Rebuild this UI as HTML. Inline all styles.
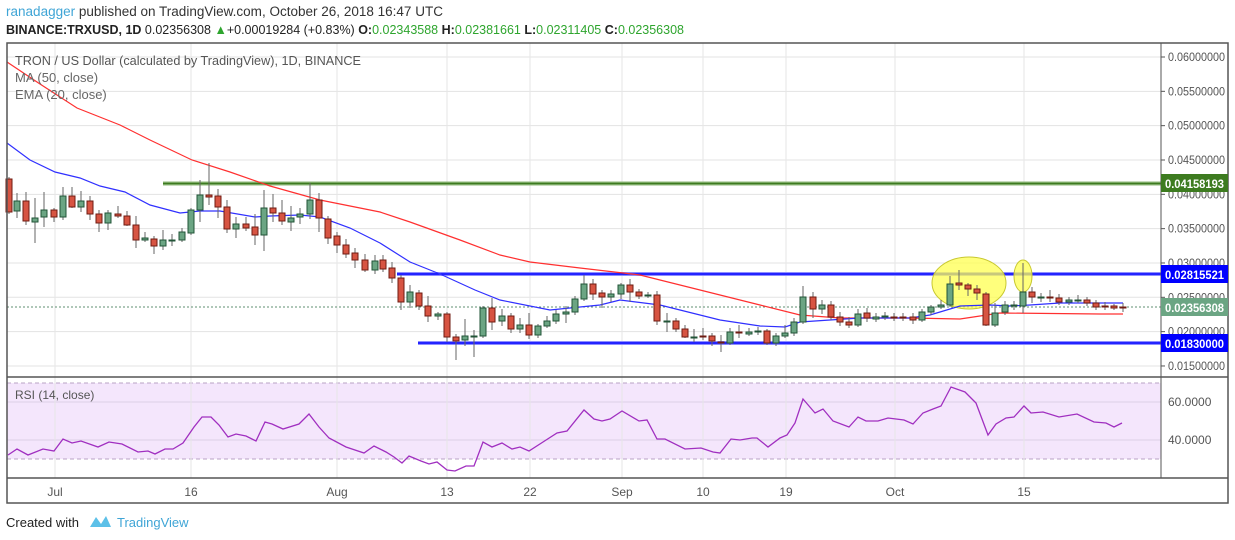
<!DOCTYPE html>
<html><head><meta charset="utf-8"><style>
body{margin:0;background:#fff;width:1235px;height:540px;overflow:hidden;font-family:"Liberation Sans",sans-serif;}
svg{position:absolute;left:0;top:0}
</style></head><body>
<svg id="s" width="1235" height="540" xmlns="http://www.w3.org/2000/svg" font-family="Liberation Sans, sans-serif">
<text x="6" y="16" font-size="13.5" fill="#3fa5d6" textLength="437" lengthAdjust="spacingAndGlyphs">ranadagger<tspan fill="#333"> published on TradingView.com, October 26, 2018 16:47 UTC</tspan></text>
<text x="6" y="34" font-size="13" font-weight="bold" fill="#222" textLength="678" lengthAdjust="spacingAndGlyphs">BINANCE:TRXUSD, 1D <tspan font-weight="normal">0.02356308</tspan> <tspan fill="#2ea52e">▲</tspan><tspan font-weight="normal">+0.00019284 (+0.83%)</tspan> O:<tspan fill="#2ea52e" font-weight="normal">0.02343588</tspan> H:<tspan fill="#2ea52e" font-weight="normal">0.02381661</tspan> L:<tspan fill="#2ea52e" font-weight="normal">0.02311405</tspan> C:<tspan fill="#2ea52e" font-weight="normal">0.02356308</tspan></text>
<g id="grid"></g>
<rect x="7" y="383" width="1154" height="76" fill="#f4e6fc"/>
<line x1="7" y1="383" x2="1161" y2="383" stroke="#b9a3c4" stroke-dasharray="4,3"/>
<line x1="7" y1="459" x2="1161" y2="459" stroke="#b9a3c4" stroke-dasharray="4,3"/>
<line x1="7" y1="402" x2="1161" y2="402" stroke="#ddd0e6"/>
<line x1="7" y1="440" x2="1161" y2="440" stroke="#ddd0e6"/>
<g id="vg"></g>
<line x1="163" y1="183.5" x2="1161" y2="183.5" stroke="#8fb87a" stroke-width="4"/>
<line x1="163" y1="183.5" x2="1161" y2="183.5" stroke="#3d7b20" stroke-width="1.5"/>
<line x1="397" y1="274" x2="1161" y2="274" stroke="#8d8dff" stroke-width="4"/>
<line x1="397" y1="274" x2="1161" y2="274" stroke="#0000ff" stroke-width="1.5"/>
<line x1="418" y1="343" x2="1161" y2="343" stroke="#8d8dff" stroke-width="4"/>
<line x1="418" y1="343" x2="1161" y2="343" stroke="#0000ff" stroke-width="1.5"/>
<line x1="7" y1="307" x2="1161" y2="307" stroke="#5f8f72" stroke-dasharray="2,2"/>
<ellipse cx="969" cy="283" rx="37" ry="26" fill="#ffff50" fill-opacity="0.75" stroke="#c8c830"/>
<ellipse cx="1023" cy="276" rx="9" ry="16" fill="#ffff50" fill-opacity="0.75" stroke="#c8c830"/>
<polyline fill="none" stroke="#ff3030" stroke-width="1.2" points="7,62 40,84 77,108 120,125 150,140 192,160 230,172 270,186 320,200 380,212 410,222 460,240 500,255 530,262 580,268 640,275 700,290 760,305 800,315 840,318 910,318 960,319 980,316 1000,313 1100,314 1123,314"/>
<polyline fill="none" stroke="#3030ff" stroke-width="1.2" points="7,143 30,160 55,172 80,178 100,186 125,192 150,205 180,213 200,211 220,211 255,217 270,216 300,215 320,217 350,228 380,243 410,262 440,274 475,290 500,300 550,310 600,305 620,300 660,305 700,315 720,320 760,326 785,327 800,322 860,318 910,318 930,315 960,306 990,305 1010,306 1030,305 1060,303 1123,303"/>
<g id="c"></g>
<polyline fill="none" stroke="#a02fc0" stroke-width="1.3" points="8,455 17,449 28,455 43,449 54,451 63,439 72,443 81,441 98,447 109,442 122,444 138,452 148,451 155,454 165,449 173,449 183,443 194,427 202,417 211,417 219,425 228,437 236,434 246,436 256,441 265,422 272,424 283,429 299,424 309,414 319,427 329,438 346,447 364,453 374,446 386,452 394,457 402,463 409,456 421,461 429,464 437,462 447,470 455,471 466,466 474,466 483,442 492,447 502,443 512,449 520,447 529,451 543,442 557,433 567,431 584,410 594,419 602,421 610,419 622,411 639,421 647,420 657,439 665,439 685,449 701,448 713,452 720,453 731,439 740,440 752,438 757,438 768,447 780,438 787,435 795,423 803,399 815,413 823,409 833,421 849,427 858,417 866,421 878,421 888,418 904,420 913,424 923,413 933,409 941,406 951,387 965,392 976,403 988,435 996,424 1006,418 1014,417 1024,406 1031,413 1043,412 1059,417 1077,414 1094,422 1106,423 1114,427 1122,423"/>
<text x="15" y="65" font-size="13" fill="#555" textLength="346" lengthAdjust="spacingAndGlyphs">TRON / US Dollar (calculated by TradingView), 1D, BINANCE</text>
<text x="15" y="82" font-size="13" fill="#666">MA (50, close)</text>
<text x="15" y="99" font-size="13" fill="#666">EMA (20, close)</text>
<text x="15" y="399" font-size="12" fill="#555">RSI (14, close)</text>
<rect x="7" y="43" width="1221" height="460" fill="none" stroke="#555" stroke-width="1.5"/>
<line x1="1161" y1="43" x2="1161" y2="478" stroke="#555"/>
<line x1="7" y1="377" x2="1228" y2="377" stroke="#555" stroke-width="1.5"/>
<line x1="7" y1="478" x2="1228" y2="478" stroke="#555" stroke-width="1.5"/>
<g id="ax" font-size="12" fill="#555"></g>
<rect x="1161" y="174" width="67" height="18" fill="#3d7b20"/><text x="1165" y="188" font-size="12" font-weight="bold" fill="#fff" textLength="59" lengthAdjust="spacingAndGlyphs">0.04158193</text>
<rect x="1161" y="265" width="67" height="18" fill="#0000ff"/><text x="1165" y="279" font-size="12" font-weight="bold" fill="#fff" textLength="59" lengthAdjust="spacingAndGlyphs">0.02815521</text>
<rect x="1161" y="298" width="67" height="18" fill="#6ba583"/><text x="1165" y="312" font-size="12" font-weight="bold" fill="#fff" textLength="59" lengthAdjust="spacingAndGlyphs">0.02356308</text>
<rect x="1161" y="334" width="67" height="18" fill="#0000ff"/><text x="1165" y="348" font-size="12" font-weight="bold" fill="#fff" textLength="59" lengthAdjust="spacingAndGlyphs">0.01830000</text>
<text x="6" y="527" font-size="13" fill="#222">Created with</text>
<path d="M90 527 L96 517 L101 524 L106 516 L111 527 Z" fill="#5cc0e8"/>
<text x="117" y="527" font-size="13" fill="#3fa5d6">TradingView</text>
</svg>
<script>
var NS="http://www.w3.org/2000/svg";
function el(p,t,a,txt){var e=document.createElementNS(NS,t);for(var k in a)e.setAttribute(k,a[k]);if(txt)e.textContent=txt;document.getElementById(p).appendChild(e);return e;}
var labs=["0.06000000","0.05500000","0.05000000","0.04500000","0.04000000","0.03500000","0.03000000","0.02500000","0.02000000","0.01500000"];
for(var i=0;i<10;i++){var y=57+i*34.33;el("grid","line",{x1:7,y1:y,x2:1161,y2:y,stroke:"#e3e3e3"});el("ax","line",{x1:1161,y1:y,x2:1165,y2:y,stroke:"#555"});el("ax","text",{x:1168,y:y+4,textLength:57,lengthAdjust:"spacingAndGlyphs"},labs[i]);}
el("ax","text",{x:1168,y:406},"60.0000");el("ax","text",{x:1168,y:444},"40.0000");
var dates=[[55,"Jul"],[191,"16"],[337,"Aug"],[447,"13"],[530,"22"],[622,"Sep"],[703,"10"],[786,"19"],[895,"Oct"],[1024,"15"]];
dates.forEach(function(d){el("vg","line",{x1:d[0],y1:43,x2:d[0],y2:478,stroke:"#e6e6e6"});el("ax","text",{x:d[0],y:496,"text-anchor":"middle"},d[1]);});
var C=[[9,179,212,0,177,214],[17,201,211,1,193,218],[26,201,221,0,192,225],[35,218,222,1,198,243],[44,210,217,1,192,227],[54,210,217,0,208,222],[63,196,217,1,187,220],[72,196,207,0,187,208],[81,201,207,1,191,212],[90,201,214,0,196,220],[99,214,223,0,210,232],[108,213,223,1,210,230],[118,214,216,0,206,218],[127,216,225,0,211,226],[136,225,240,0,216,248],[145,238,240,1,232,242],[154,239,246,0,236,254],[163,240,246,1,230,250],[172,240,241,1,234,246],[182,232,240,1,228,242],[191,210,233,1,208,235],[200,195,210,1,180,222],[209,195,197,0,163,205],[218,196,207,0,189,218],[227,207,229,0,200,233],[236,224,229,1,217,238],[246,224,228,0,217,231],[255,227,235,0,214,245],[264,208,235,1,190,251],[273,208,213,0,194,222],[282,213,221,0,200,225],[291,218,222,1,206,231],[300,214,217,1,208,224],[310,200,214,1,183,219],[319,200,218,0,193,232],[328,219,238,0,216,244],[337,236,245,0,232,253],[346,245,254,0,239,258],[355,253,260,0,248,268],[365,260,270,0,254,272],[375,261,270,1,255,274],[383,260,269,0,255,272],[392,268,278,0,262,283],[401,278,302,0,275,310],[410,292,302,1,285,308],[419,293,306,0,290,310],[428,306,316,0,296,322],[438,314,316,1,312,320],[447,314,337,0,312,342],[456,337,341,0,334,360],[465,336,340,1,319,346],[474,336,337,1,330,357],[483,308,336,1,306,338],[492,308,322,0,298,330],[502,316,321,1,309,326],[511,316,329,0,313,333],[520,325,329,1,318,333],[529,325,335,0,313,339],[538,326,335,1,324,338],[547,321,326,1,316,328],[556,314,321,1,310,324],[566,312,314,1,306,323],[575,299,312,1,296,315],[584,284,299,1,275,301],[593,284,294,0,279,300],[602,293,297,0,290,308],[611,294,297,1,290,302],[621,285,294,1,283,299],[630,285,292,0,279,302],[639,292,296,0,289,299],[648,295,296,1,292,298],[657,295,321,0,291,325],[667,321,322,1,313,332],[676,321,329,0,318,332],[685,329,337,0,325,338],[694,337,338,1,329,342],[703,336,337,0,328,340],[712,336,341,0,333,346],[721,342,343,0,335,352],[730,332,343,1,328,345],[739,332,333,0,325,338],[749,332,334,1,328,336],[758,331,332,1,327,335],[767,331,343,0,329,345],[776,336,343,1,333,346],[785,333,336,1,325,338],[794,322,333,1,318,336],[803,297,322,1,286,324],[813,297,309,0,292,318],[822,305,309,1,300,314],[831,305,317,0,301,320],[840,317,322,0,312,326],[849,322,325,0,317,328],[858,314,325,1,309,327],[867,313,318,0,308,322],[876,317,319,1,313,322],[885,316,317,1,312,320],[894,317,318,0,313,321],[903,317,318,0,313,321],[913,317,320,0,313,324],[922,312,320,1,309,322],[931,307,312,1,305,315],[941,305,307,1,300,309],[950,284,305,1,276,307],[959,283,285,0,270,290],[968,285,289,0,283,296],[977,289,293,0,285,300],[986,294,325,0,292,326],[995,313,325,1,303,327],[1005,305,312,1,301,315],[1014,305,306,1,301,310],[1023,292,306,1,263,313],[1032,292,297,0,287,303],[1041,297,298,1,293,302],[1050,297,298,0,290,302],[1059,298,302,0,294,305],[1069,300,302,1,297,305],[1078,300,301,1,295,303],[1087,300,303,0,297,306],[1096,303,307,0,300,310],[1105,306,307,0,302,310],[1114,306,308,0,304,310],[1123,307,308,0,303,312]];
C.forEach(function(c){var g=c[3];el("c","line",{x1:c[0],y1:c[4],x2:c[0],y2:c[5],stroke:"#666","stroke-width":1});
var h=Math.max(c[2]-c[1],1);el("c","rect",{x:c[0]-3,y:c[1],width:6,height:h,fill:g?"#6ba583":"#d75442",stroke:g?"#225437":"#6f1b12","stroke-width":1});});
</script>
</body></html>
